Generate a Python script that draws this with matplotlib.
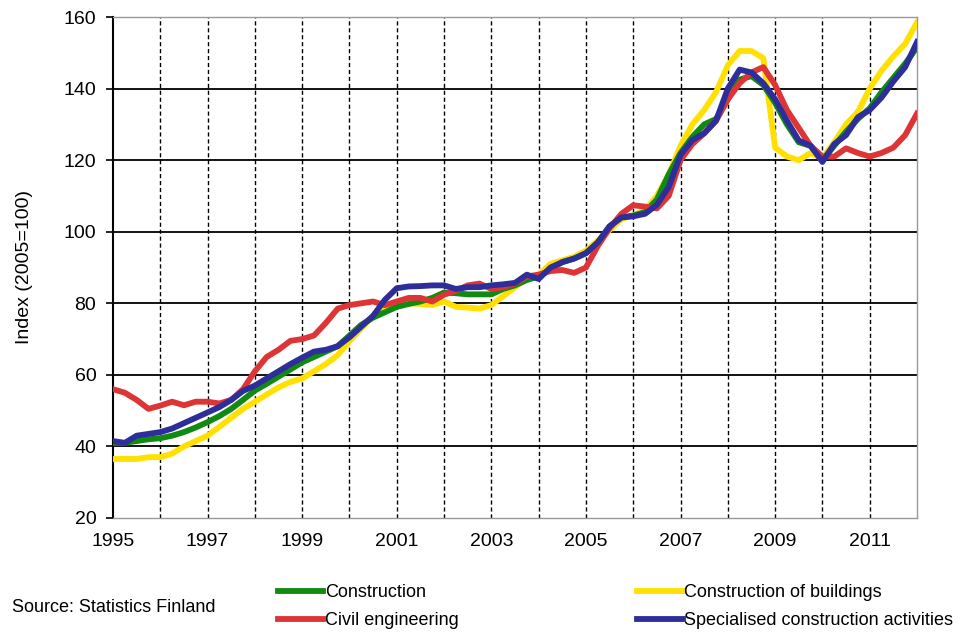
import matplotlib
matplotlib.use("Agg")
import matplotlib.pyplot as plt
import numpy as np

plt.rcParams['font.family'] = ['Liberation Sans', 'DejaVu Sans']

# quarterly points, 1995Q1 .. end of 2011
years = 1995 + np.arange(69) / 4.0

construction = [
    41, 41, 41.5, 42, 42.3, 43, 44, 45.3, 46.8, 48.5, 50.5, 53,
    55.6, 57.5, 59.5, 61.5, 63.5, 65, 66.5, 68, 71, 74, 76, 77.5,
    79, 79.8, 80.5, 81.5, 83, 82.8, 82.5, 82.5, 82.5, 84, 85, 86.5,
    87.5, 89.5, 91.5, 92.5, 94, 97, 101.5, 104, 104.5, 105.5, 109, 116,
    122, 126.5, 130, 131.5, 137, 142.5, 143.5, 141, 136, 130, 125, 124,
    120, 124, 128, 131.5, 134.5, 139, 143, 147, 151.5]

buildings = [
    36.5, 36.5, 36.5, 37, 37, 38, 40, 41.5, 43, 45.5, 48, 50.5,
    52.5, 54.5, 56.5, 58, 59, 61, 63, 65.5, 69.4, 73, 76.5, 78.5,
    79, 80, 79.8, 79.5, 80.5, 79, 78.8, 78.5, 79.5, 82, 84.5, 87,
    88, 91, 92, 93, 94.7, 97.5, 100.5, 103.5, 104.6, 106, 110, 116,
    124, 130, 134, 139, 146.5, 150.5, 150.5, 148.5, 123.5, 121, 120, 122,
    120.5, 125, 130, 133.5, 140, 145, 149, 152.5, 158.5]

civil = [
    56, 55, 53, 50.5, 51.4, 52.5, 51.5, 52.5, 52.5, 52, 53, 56,
    61, 65, 67, 69.5, 70, 71, 74.5, 78.5, 79.5, 80, 80.5, 79.5,
    80.5, 81.5, 81.5, 80.5, 82.4, 83.5, 85, 85.5, 84, 84.5, 85.5, 87.5,
    88, 89, 89.3, 88.5, 90, 96, 101, 105, 107.4, 107, 106.5, 110,
    120, 124.5, 127.5, 131, 137, 141.5, 144.5, 146, 141, 134, 129, 124,
    121, 121, 123.3, 122, 121, 122, 123.5, 127, 133]

specialised = [
    41.5, 41, 43, 43.5, 44, 45, 46.5, 48, 49.5, 51, 53, 55.5,
    57, 59, 61, 63, 64.8, 66.5, 67, 68, 70.5, 73.5, 76.5, 81,
    84.2, 84.7, 84.8, 85, 85, 84, 84.5, 84.5, 85, 85.3, 85.7, 88,
    86.8, 90, 91.5, 92.5, 94, 97, 101.5, 104, 104.3, 105, 107.5, 112.5,
    121.5, 125.6, 127.5, 131, 140, 145.3, 144.5, 141.5, 137, 131, 125.5, 124,
    119.5, 124.5, 127, 132, 134, 137.5, 142, 146, 153]

xticks = [1995, 1997, 1999, 2001, 2003, 2005, 2007, 2009, 2011]
yticks = [20, 40, 60, 80, 100, 120, 140, 160]

fig = plt.figure(figsize=(9.63, 6.35), dpi=100)
ax = fig.add_axes([113/963, 1-518/635, (917-113)/963, (518-17)/635])

lw = 4.2
l_yel, = ax.plot(years, buildings, color='#ffe000', lw=lw, label='Construction of buildings', zorder=3)
l_grn, = ax.plot(years, construction, color='#108a10', lw=lw, label='Construction', zorder=4)
l_red, = ax.plot(years, civil, color='#dd3535', lw=lw, label='Civil engineering', zorder=5)
l_blu, = ax.plot(years, specialised, color='#2e2e9a', lw=lw, label='Specialised construction activities', zorder=6)

ax.set_xlim(1995, 2012)
ax.set_ylim(20, 160)
ax.set_xticks(xticks)
ax.set_yticks(yticks)

# grid: solid horizontal, dashed vertical every year
for v in yticks[1:-1]:
    ax.axhline(v, color='black', lw=1.3, zorder=1)
for x in range(1996, 2012):
    ax.axvline(x, color='black', lw=1.0, ls=(0, (3, 2)), zorder=1)

ax.tick_params(axis='y', length=5, width=1.2, direction='out', pad=7, labelsize=14)
ax.tick_params(axis='x', which='both', length=0, pad=11, labelsize=14)

for s in ['top', 'right', 'bottom']:
    ax.spines[s].set_color('#999999')
    ax.spines[s].set_linewidth(1.0)
ax.spines['left'].set_color('black')
ax.spines['left'].set_linewidth(1.5)

ax.set_ylabel('Index (2005=100)', fontsize=14, labelpad=22)

fig.legend(handles=[l_grn, l_red, l_yel, l_blu], ncol=2, frameon=False,
           loc='upper left', bbox_to_anchor=(278/963, 1-584/635),
           fontsize=13, handlelength=2.5, handletextpad=0.1,
           columnspacing=9.9, labelspacing=0.62, borderpad=0, borderaxespad=0)

fig.text(12/963, 1-607/635, 'Source: Statistics Finland', fontsize=13, va='center')

fig.savefig('out.png', dpi=100)
